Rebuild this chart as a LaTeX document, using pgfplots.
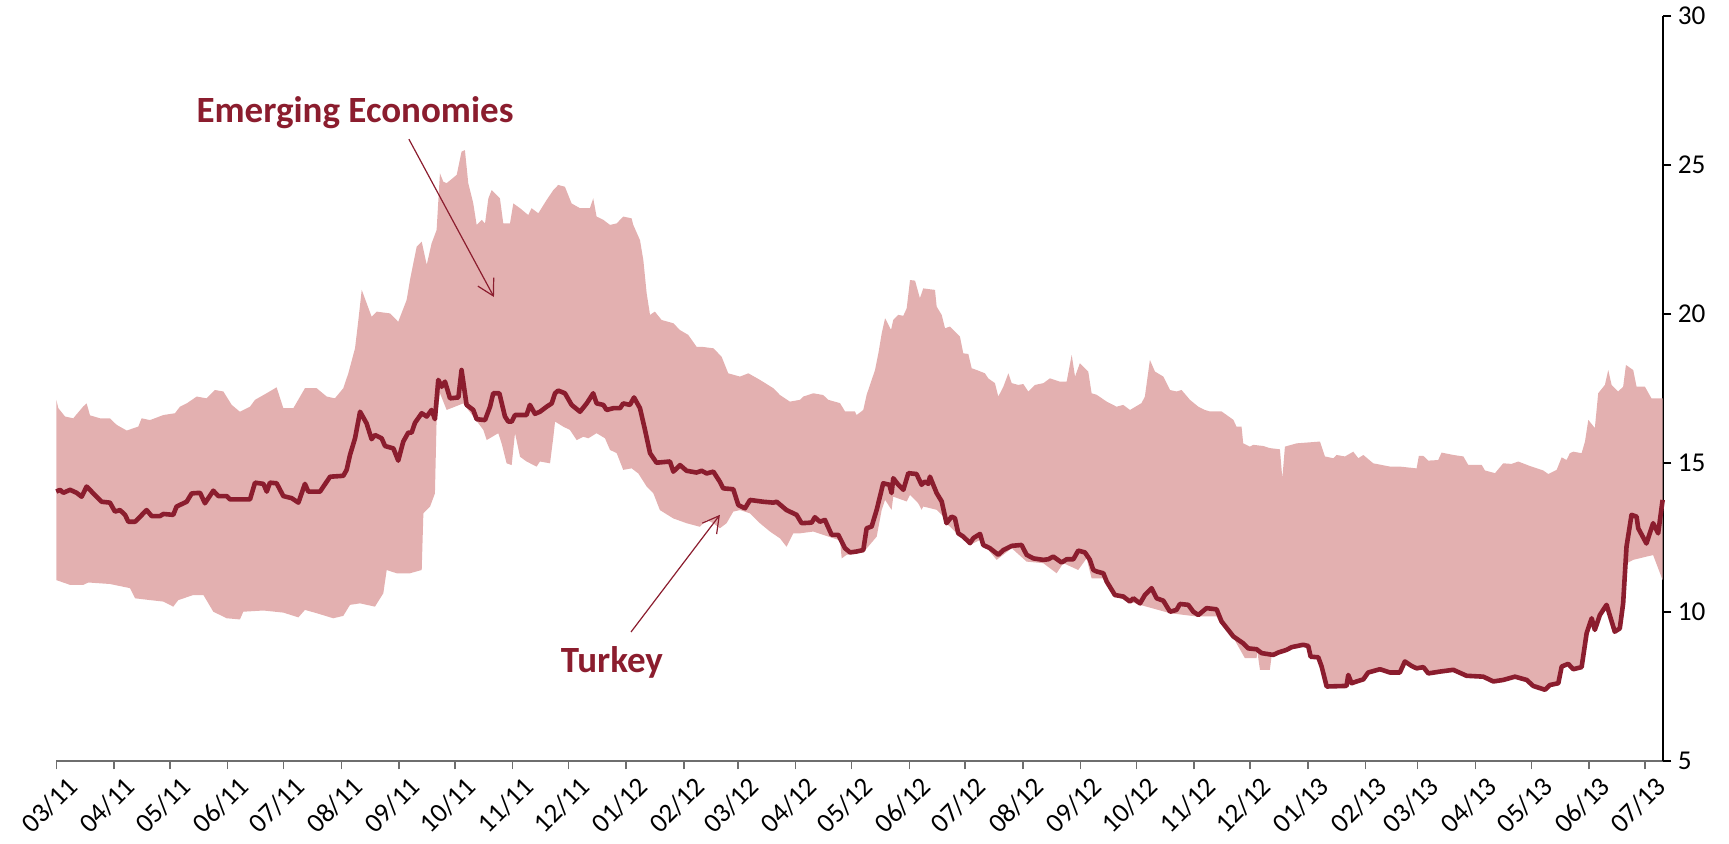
\documentclass[border=0pt]{standalone}
\usepackage{fontspec}
\setmainfont{Carlito}
\usepackage{pgfplots}
\pgfplotsset{compat=1.18}
\usepgfplotslibrary{fillbetween}
\usetikzlibrary{arrows.meta}
\definecolor{band}{RGB}{227,176,176}
\definecolor{tk}{RGB}{139,29,46}
\definecolor{axgray}{RGB}{110,110,110}

\begin{document}
\begin{tikzpicture}
\begin{axis}[
  scale only axis, width=803.35pt, height=372.5pt,
  xmin=0, xmax=862.7, ymin=5, ymax=30,
  axis x line=bottom, axis y line=right,
  axis line style={-},
  x axis line style={draw=axgray, line width=0.75pt},
  y axis line style={draw=black, line width=0.75pt},
  tick align=outside,
  major tick length=4.2pt,
  xtick={0,31,61,92,122,153,184,214,245,275,306,337,366,397,427,458,488,519,550,580,611,641,672,703,731,762,792,823,853},
  xticklabels={03/11,04/11,05/11,06/11,07/11,08/11,09/11,10/11,11/11,12/11,01/12,02/12,03/12,04/12,05/12,06/12,07/12,08/12,09/12,10/12,11/12,12/12,01/13,02/13,03/13,04/13,05/13,06/13,07/13},
  x tick style={draw=axgray, line width=0.75pt},
  y tick style={draw=black, line width=0.75pt},
  xticklabel style={rotate=45, anchor=north east, inner sep=0pt, yshift=-5pt, xshift=1.5pt, font=\fontsize{13.6}{15}\selectfont},
  ytick={5,10,15,20,25,30},
  yticklabel style={anchor=west, inner sep=0pt, xshift=3pt, font=\fontsize{13.6}{15}\selectfont},
  /pgf/number format/assume math mode=true,
  clip=false,
]
\addplot[name path=U, draw=none] coordinates {
(0.0,17.12)(1.1,16.84)(4.7,16.56)(9.1,16.5)(14.5,16.9)(16.3,17.0)(18.1,16.6)(23.5,16.5)(28.8,16.5)(32.4,16.28)
(37.8,16.09)(44.0,16.22)(45.8,16.5)(50.3,16.44)(57.5,16.61)(63.7,16.67)(66.4,16.89)(70.0,17.0)(75.4,17.23)(80.7,17.17)
(85.2,17.45)(89.7,17.4)(94.2,16.95)(98.6,16.72)(104.0,16.89)(106.7,17.12)(112.9,17.34)(118.3,17.54)(121.9,16.84)(127.3,16.84)
(133.5,17.51)(139.8,17.51)(145.2,17.23)(149.6,17.17)(154.1,17.51)(156.8,18.01)(160.4,18.85)(162.2,19.8)(164.0,20.81)(169.3,19.91)
(172.0,20.08)(179.2,20.02)(183.6,19.74)(188.1,20.47)(189.9,21.14)(193.5,22.26)(196.2,22.43)(198.9,21.65)(201.5,22.37)(204.2,22.82)
(206.0,24.72)(207.8,24.44)(209.6,24.39)(215.0,24.67)(217.6,25.45)(219.4,25.5)(221.2,24.39)(223.9,23.71)(225.7,22.99)(228.4,23.16)
(230.2,23.04)(232.0,23.88)(233.8,24.16)(238.2,23.88)(240.0,23.04)(243.6,23.04)(245.4,23.71)(249.0,23.55)(253.4,23.32)(255.2,23.55)
(258.8,23.38)(263.3,23.83)(266.9,24.16)(269.5,24.33)(273.1,24.27)(276.7,23.71)(281.2,23.55)(286.5,23.55)(288.3,23.88)(290.1,23.27)
(293.7,23.16)(297.3,22.99)(300.9,23.04)(304.4,23.27)(308.9,23.21)(309.8,22.99)(313.4,22.48)(315.2,21.81)(317.0,20.69)(318.8,19.97)
(321.4,20.08)(325.0,19.8)(331.3,19.69)(334.9,19.46)(339.3,19.3)(343.8,18.9)(346.5,18.9)(352.8,18.85)(357.2,18.57)(360.8,18.01)
(367.1,17.9)(371.6,18.01)(377.8,17.79)(385.0,17.51)(388.6,17.28)(393.9,17.06)(399.3,17.12)(401.1,17.23)(406.5,17.34)(411.8,17.28)
(414.5,17.12)(420.8,17.01)(423.5,16.73)(428.8,16.73)(429.7,16.61)(433.3,16.78)(435.1,17.29)(439.6,18.12)(441.4,18.68)(443.2,19.35)
(445.0,19.86)(448.2,19.47)(449.4,19.80)(452.1,19.97)(454.8,19.94)(456.6,20.19)(458.4,21.14)(461.1,21.12)(463.7,20.53)(465.5,20.86)
(469.1,20.83)(471.8,20.81)(472.7,20.25)(475.4,19.97)(477.2,19.52)(479.8,19.58)(485.2,19.24)(487.0,18.68)(489.7,18.66)(491.5,18.18)
(494.2,18.12)(498.6,18.01)(500.4,17.84)(504.0,17.68)(505.8,17.23)(508.5,17.56)(511.2,18.01)(513.0,17.68)(516.5,17.62)(519.2,17.65)
(521.9,17.40)(525.5,17.62)(530.0,17.68)(533.5,17.84)(538.9,17.73)(542.5,17.73)(545.2,18.63)(547.0,17.9)(549.6,18.35)(554.1,18.07)
(555.9,17.34)(558.6,17.29)(564.0,17.06)(569.3,16.89)(572.9,16.95)(576.5,16.78)(582.7,17.01)(584.5,17.23)(587.2,18.46)(589.9,18.07)
(594.4,17.9)(598.0,17.45)(601.5,17.4)(604.2,17.45)(608.7,17.12)(613.2,16.89)(616.7,16.78)(619.4,16.73)(625.7,16.73)(632.0,16.45)
(633.7,16.22)(636.4,16.22)(637.3,15.66)(640.9,15.55)(642.7,15.61)(648.1,15.57)(651.6,15.5)(657.0,15.46)(658.3,14.49)(659.7,15.55)
(666.0,15.66)(678.5,15.72)(681.2,15.22)(685.7,15.16)(687.4,15.27)(691.9,15.22)(696.4,15.38)(699.1,15.16)(701.8,15.27)(707.1,14.99)
(716.1,14.88)(721.4,14.88)(730.4,14.82)(731.6,15.24)(734.0,15.24)(736.7,15.08)(742.0,15.1)(743.8,15.35)(750.1,15.27)(755.5,15.22)
(758.1,14.94)(765.3,14.94)(767.1,14.75)(772.5,14.66)(776.9,14.99)(781.4,14.97)(785.0,15.05)(791.2,14.9)(798.4,14.75)(801.1,14.63)
(805.6,14.77)(808.3,15.19)(810.9,15.1)(812.7,15.33)(814.5,15.38)(819.0,15.33)(820.8,15.72)(822.6,16.45)(826.1,16.17)(827.9,17.34)
(831.5,17.62)(833.3,18.12)(835.1,17.62)(838.6,17.4)(841.3,17.56)(842.8,18.29)(846.7,18.12)(848.5,17.56)(853.0,17.56)(856.5,17.17)
(862.5,17.17)
};
\addplot[name path=L, draw=none] coordinates {
(0.0,11.07)(7.4,10.91)(14.5,10.91)(17.2,10.99)(28.8,10.94)(39.6,10.8)(42.3,10.46)(50.3,10.4)(57.5,10.35)(62.8,10.18)
(65.5,10.4)(73.6,10.57)(79.0,10.57)(84.3,10.01)(91.5,9.79)(98.6,9.75)(100.4,10.01)(111.2,10.05)(121.9,9.98)(130.0,9.82)
(133.5,10.07)(139.8,9.96)(148.7,9.79)(154.1,9.87)(157.7,10.24)(163.1,10.29)(171.1,10.18)(175.6,10.63)(177.4,11.41)(182.7,11.3)
(189.9,11.3)(196.2,11.41)(197.1,13.31)(200.7,13.54)(203.3,13.98)(204.2,16.44)(206.0,17.34)(209.6,16.78)(218.5,17.0)(223.9,16.56)
(229.3,16.11)(231.1,15.77)(237.3,16.0)(239.1,15.66)(241.8,14.99)(244.5,14.93)(246.3,16.0)(249.0,15.21)(252.5,15.05)(257.9,14.88)
(259.7,15.05)(265.1,14.99)(266.9,15.88)(267.8,16.39)(272.2,16.22)(275.8,16.11)(279.4,15.77)(283.0,15.88)(285.7,15.83)(290.1,16.0)
(294.6,15.83)(297.3,15.44)(300.9,15.33)(304.4,14.77)(308.9,14.82)(312.5,14.65)(317.0,14.21)(320.6,13.98)(324.1,13.42)(331.3,13.14)
(338.4,12.98)(345.6,12.86)(349.2,13.09)(352.8,12.98)(356.3,12.81)(359.9,12.98)(363.5,13.37)(367.1,13.42)(372.5,13.31)(377.8,12.98)
(383.2,12.7)(388.6,12.47)(392.1,12.19)(395.7,12.64)(399.3,12.64)(406.5,12.7)(413.6,12.55)(420.8,12.4)(421.7,11.8)(424.4,11.92)
(433.3,12.0)(440.5,12.53)(443.2,13.43)(445.0,13.76)(448.5,13.43)(449.4,13.87)(456.6,13.71)(458.4,13.93)(462.8,13.65)(464.6,13.43)
(465.5,13.54)(472.7,13.43)(476.3,13.2)(478.9,12.92)(484.3,12.59)(490.6,12.25)(496.0,12.42)(504.9,11.75)(513.0,12.14)(521.0,11.69)
(529.9,11.64)(537.1,11.3)(540.7,11.64)(548.7,11.41)(553.2,11.8)(555.9,11.13)(562.2,11.13)(568.4,10.52)(581.9,10.24)(598.0,9.96)
(612.3,9.85)(623.0,9.85)(624.8,9.62)(630.2,9.34)(633.7,8.95)(638.2,8.45)(644.5,8.45)(644.8,8.7)(646.3,8.06)(651.6,8.06)
(652.5,8.5)(653.4,8.51)(656.1,8.59)(660.6,8.68)(663.3,8.77)(669.5,8.85)(672.2,8.81)(673.5,8.45)(677.6,8.43)(679.4,8.12)
(682.1,7.45)(692.8,7.47)(693.7,7.84)(695.5,7.56)(698.2,7.62)(701.8,7.69)(704.4,7.92)(710.7,8.03)(716.1,7.92)(721.4,7.92)
(724.1,8.29)(727.7,8.14)(730.4,8.06)(734.0,8.1)(736.7,7.89)(742.9,7.95)(750.1,8.01)(757.2,7.81)(766.2,7.78)(771.6,7.62)
(776.9,7.67)(783.2,7.78)(789.5,7.67)(793.0,7.47)(799.3,7.34)(802.0,7.5)(806.5,7.56)(808.3,8.12)(811.8,8.21)(814.5,8.03)
(819.0,8.1)(821.7,9.24)(824.4,9.74)(826.1,9.35)(828.8,9.85)(832.4,10.19)(836.8,9.29)(839.5,9.4)(841.3,10.24)(843.1,11.63)
(846.7,11.75)(853.9,11.86)(857.4,11.91)(862.5,11.07)
};
\addplot[band, draw=none] fill between[of=U and L];
\addplot[tk, line width=2.3pt, line join=round] coordinates {
(0.0,14.04)(2.0,14.1)(3.8,14.0)(7.4,14.1)(10.9,14.0)(13.6,13.87)(16.3,14.21)(19.9,13.98)(24.4,13.7)(28.8,13.67)
(31.5,13.37)(34.2,13.42)(36.9,13.26)(38.7,13.03)(42.3,13.03)(48.5,13.42)(51.2,13.22)(55.7,13.22)(57.5,13.29)(62.8,13.26)
(64.6,13.54)(70.0,13.7)(72.7,13.98)(77.2,14.0)(79.8,13.65)(84.3,14.07)(87.0,13.89)(91.5,13.89)(93.3,13.78)(104.0,13.78)
(106.7,14.34)(111.2,14.3)(113.0,14.04)(114.7,14.34)(118.3,14.32)(121.9,13.89)(126.4,13.82)(130.0,13.67)(133.5,14.3)(135.3,14.04)
(141.6,14.04)(147.0,14.54)(154.1,14.57)(155.9,14.77)(157.7,15.27)(160.4,15.83)(163.1,16.72)(166.6,16.33)(169.3,15.8)(171.1,15.94)
(174.7,15.83)(176.5,15.57)(181.0,15.49)(183.6,15.08)(186.3,15.72)(189.0,16.02)(190.8,16.02)(192.6,16.35)(196.2,16.67)(198.9,16.56)
(201.5,16.78)(203.3,16.47)(205.1,17.79)(206.9,17.56)(208.7,17.73)(211.4,17.17)(215.9,17.2)(217.6,18.12)(220.3,16.95)(223.9,16.78)
(225.7,16.47)(230.2,16.44)(232.9,16.89)(234.6,17.34)(237.9,17.34)(240.9,16.56)(242.7,16.39)(244.5,16.39)(246.3,16.61)(252.5,16.61)
(254.3,16.95)(257.0,16.65)(259.7,16.72)(263.3,16.89)(266.0,17.0)(267.8,17.34)(269.5,17.43)(273.1,17.34)(276.7,16.95)(281.2,16.72)
(284.8,17.0)(288.3,17.34)(290.1,17.0)(293.7,16.95)(295.5,16.78)(299.1,16.84)(302.7,16.84)(304.4,17.0)(308.0,16.95)(310.2,17.2)
(313.4,16.84)(316.1,16.11)(318.8,15.33)(322.3,15.01)(329.5,15.05)(331.3,14.71)(334.9,14.93)(338.4,14.74)(343.8,14.68)(346.5,14.74)
(349.2,14.65)(352.8,14.71)(356.3,14.37)(358.1,14.15)(363.5,14.12)(366.2,13.59)(369.8,13.48)(372.5,13.76)(379.6,13.7)(385.0,13.67)
(386.8,13.7)(392.1,13.42)(397.5,13.26)(400.2,12.98)(405.6,13.0)(407.3,13.18)(410.0,13.03)(412.7,13.09)(416.3,12.59)(419.9,12.59)
(423.5,12.14)(426.2,12.0)(429.7,12.03)(433.3,12.08)(435.1,12.81)(437.8,12.87)(440.5,13.43)(444.0,14.32)(447.3,14.27)(448.5,13.99)
(449.4,14.49)(452.1,14.27)(454.8,14.1)(457.5,14.66)(461.9,14.63)(464.6,14.27)(466.4,14.38)(468.2,14.3)(469.1,14.54)(472.7,13.99)
(475.4,13.71)(478.0,12.98)(480.7,13.2)(482.5,13.15)(484.3,12.64)(487.0,12.53)(490.6,12.31)(492.4,12.48)(496.0,12.62)(497.7,12.25)
(501.3,12.14)(505.8,11.92)(508.5,12.08)(513.0,12.22)(518.3,12.25)(521.0,11.92)(524.6,11.8)(529.9,11.75)(532.6,11.77)(535.3,11.86)
(539.8,11.66)(542.5,11.77)(546.1,11.77)(548.7,12.06)(552.3,12.0)(555.0,11.75)(556.8,11.41)(558.6,11.36)(562.2,11.3)(564.0,11.02)
(568.4,10.57)(572.9,10.52)(576.5,10.35)(578.3,10.46)(581.9,10.29)(584.5,10.57)(588.1,10.8)(590.8,10.46)(594.4,10.38)(598.0,10.01)
(601.5,10.07)(603.3,10.27)(607.8,10.24)(610.5,10.01)(613.2,9.9)(617.6,10.13)(623.0,10.09)(625.7,9.68)(632.0,9.18)(637.3,8.95)
(640.0,8.78)(644.5,8.75)(647.2,8.62)(653.4,8.56)(656.1,8.64)(660.6,8.73)(663.3,8.82)(669.5,8.9)(672.2,8.86)(673.5,8.5)
(677.6,8.48)(679.4,8.17)(682.1,7.5)(692.8,7.52)(693.7,7.89)(695.5,7.61)(698.2,7.67)(701.8,7.74)(704.4,7.97)(710.7,8.08)
(716.1,7.97)(721.4,7.97)(724.1,8.34)(727.7,8.19)(730.4,8.11)(734.0,8.15)(736.7,7.94)(742.9,8.0)(750.1,8.06)(757.2,7.86)
(766.2,7.83)(771.6,7.67)(776.9,7.72)(783.2,7.83)(789.5,7.72)(793.0,7.52)(799.3,7.39)(802.0,7.55)(806.5,7.61)(808.3,8.17)
(811.8,8.26)(814.5,8.08)(819.0,8.15)(821.7,9.29)(824.4,9.79)(826.1,9.4)(828.8,9.9)(832.4,10.24)(836.8,9.34)(839.5,9.45)
(841.3,10.29)(843.1,12.19)(845.8,13.26)(848.5,13.2)(849.4,12.81)(853.8,12.3)(857.4,12.98)(860.1,12.64)(862.5,13.76)
};
\node[font=\fontsize{18.5}{22}\selectfont\bfseries, text=tk] at (axis cs:160.4,26.76) {Emerging Economies};
\node[font=\fontsize{18.5}{22}\selectfont\bfseries, text=tk] at (axis cs:298.3,8.32) {Turkey};
\draw[tk, line width=0.6pt, -{Straight Barb[length=8pt, width=9pt]}] (axis cs:189.3,25.87) -- (axis cs:235,20.57);
\draw[tk, line width=0.6pt, -{Straight Barb[length=8pt, width=9pt]}] (axis cs:308.6,9.33) -- (axis cs:356.3,13.26);
\end{axis}
\pgfresetboundingbox
\useasboundingbox (-28.15pt,-41pt) rectangle (836.35pt,380.5pt);
\end{tikzpicture}
\end{document}
